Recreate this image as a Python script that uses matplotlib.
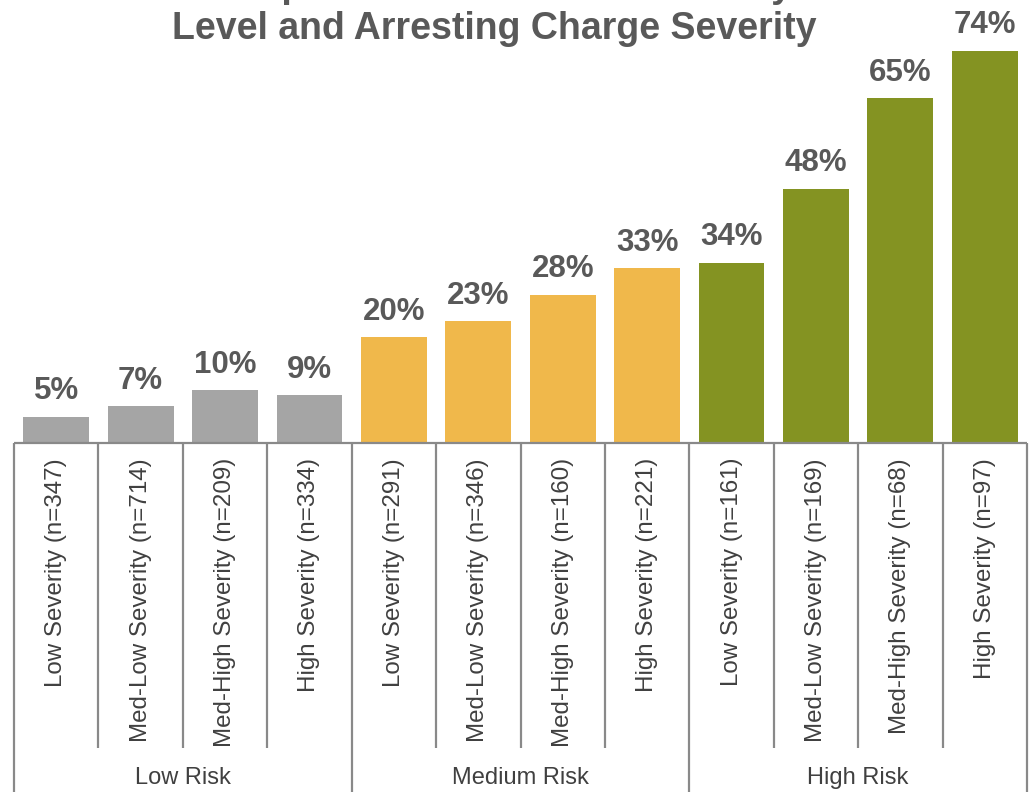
import matplotlib.pyplot as plt
import matplotlib.transforms as transforms

plt.rcParams['font.family'] = ['Liberation Sans', 'DejaVu Sans']

# rates per risk level / charge severity
groups = ['Low Risk', 'Medium Risk', 'High Risk']
severity = ['Low Severity', 'Med-Low Severity', 'Med-High Severity', 'High Severity']
counts = [347, 714, 209, 334, 291, 346, 160, 221, 161, 169, 68, 97]
rates = [5, 7, 10, 9, 20, 23, 28, 33, 34, 48, 65, 74]
colors = ['#a5a5a5', '#f0b84b', '#849322']

W, H = 1035, 792
fig = plt.figure(figsize=(W / 100, H / 100), dpi=100)

base_px, top_px = 443, 19
left_px, right_px = 14, 1027
ax = fig.add_axes([left_px / W, 1 - base_px / H, (right_px - left_px) / W, (base_px - top_px) / H])

n = len(rates)
xs = list(range(n))
bar_cols = [colors[i // 4] for i in xs]
ax.bar(xs, rates, width=0.78, color=bar_cols, zorder=2)
ax.set_xlim(-0.5, n - 0.5)
ax.set_ylim(0, 80)

for x, r in zip(xs, rates):
    ax.annotate(f'{r}%', (x, r), xytext=(0, 12.5), textcoords='offset points',
                ha='center', va='baseline', fontsize=22.5, fontweight='bold',
                color='#595959', annotation_clip=False)

for s in ax.spines.values():
    s.set_visible(False)
ax.set_xticks([])
ax.set_yticks([])

ax_h = base_px - top_px
trans = transforms.blended_transform_factory(ax.transData, ax.transAxes)
line_kw = dict(color='#898989', lw=1.6, clip_on=False, transform=trans, solid_capstyle='butt')

# baseline and category dividers
ax.plot([-0.5, n - 0.5], [0, 0], **line_kw)
for i in range(n + 1):
    xd = i - 0.5
    if i % 4 == 0:
        ax.plot([xd, xd], [0, -(H - base_px + 5) / ax_h], **line_kw)
    else:
        ax.plot([xd, xd], [0, -(748 - base_px) / ax_h], **line_kw)

for x, c in zip(xs, counts):
    ax.text(x, -(458 - base_px) / ax_h, f'{severity[x % 4]} (n={c})', transform=trans,
            rotation=90, ha='center', va='top', fontsize=17.4, color='#404040')

for g, name in enumerate(groups):
    ax.text(g * 4 + 1.5, -(778 - base_px) / ax_h, name, transform=trans,
            ha='center', va='center', fontsize=17, color='#404040')

# title, first line runs off the top edge
fig.text(0.478, 1 + 3 / H, 'Comparison of Rearrest Rates by', ha='center', va='baseline',
         fontsize=27, fontweight='bold', color='#595959')
fig.text(0.478, 1 - 39 / H, 'Level and Arresting Charge Severity', ha='center', va='baseline',
         fontsize=27, fontweight='bold', color='#595959')

fig.savefig('out.png', dpi=100)
